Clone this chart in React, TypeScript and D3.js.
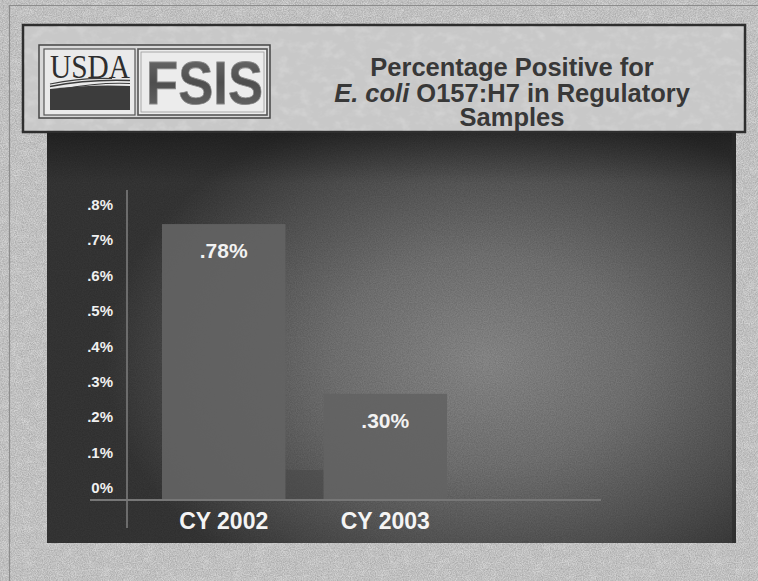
import React from "react";
import * as d3 from "d3";

// Chart data
const CATEGORIES = ["CY 2002", "CY 2003"];
const VALUES = [0.78, 0.3];
const VALUE_LABELS = [".78%", ".30%"];
const Y_TICKS = [0, 0.1, 0.2, 0.3, 0.4, 0.5, 0.6, 0.7, 0.8];
const Y_TICK_LABELS = ["0%", ".1%", ".2%", ".3%", ".4%", ".5%", ".6%", ".7%", ".8%"];
const TITLE_LINE_1 = "Percentage Positive for";
const TITLE_LINE_2_ITALIC = "E. coli";
const TITLE_LINE_2_REST = " O157:H7 in Regulatory";
const TITLE_LINE_3 = "Samples";

const W = 758;
const H = 581;
const SANS = "'Liberation Sans', Arial, Helvetica, sans-serif";

export default function App() {
  const y = d3.scaleLinear().domain([0, 0.8]).range([500, 217]);
  const x = d3
    .scaleBand<string>()
    .domain(CATEGORIES)
    .range([162, 447])
    .paddingInner(0.236)
    .paddingOuter(0);

  const bw = x.bandwidth();
  const baseY = y(0);

  return (
    <svg
      width={W}
      height={H}
      viewBox={`0 0 ${W} ${H}`}
      style={{ position: "fixed", left: 0, top: 0, display: "block" }}
    >
      <defs>
        <filter id="grain" x="0" y="0" width="100%" height="100%">
          <feTurbulence type="fractalNoise" baseFrequency="0.85" numOctaves="2" seed="3" />
          <feColorMatrix
            type="matrix"
            values="0 0 0 0 0  0 0 0 0 0  0 0 0 0 0  0 0 0 -1.4 1.05"
          />
        </filter>
        <filter id="blotch" x="0" y="0" width="100%" height="100%">
          <feTurbulence type="fractalNoise" baseFrequency="0.09 0.12" numOctaves="3" seed="8" />
          <feColorMatrix
            type="matrix"
            values="0 0 0 0 1  0 0 0 0 1  0 0 0 0 1  0 0 0 -2.2 1.2"
          />
        </filter>
        <radialGradient
          id="panelGrad"
          gradientUnits="userSpaceOnUse"
          cx="485"
          cy="360"
          r="380"
          gradientTransform="translate(485,360) scale(1,0.7) translate(-485,-360)"
        >
          <stop offset="0" stopColor="#8a8a8a" />
          <stop offset="0.4" stopColor="#737373" />
          <stop offset="0.78" stopColor="#4e4e4e" />
          <stop offset="1" stopColor="#363636" />
        </radialGradient>
        <linearGradient id="topShade" x1="0" y1="0" x2="0" y2="1">
          <stop offset="0" stopColor="#000" stopOpacity="0.35" />
          <stop offset="1" stopColor="#000" stopOpacity="0" />
        </linearGradient>
        <linearGradient id="fsisGrad" x1="0" y1="0" x2="0" y2="1">
          <stop offset="0" stopColor="#707070" />
          <stop offset="0.5" stopColor="#4e4e4e" />
          <stop offset="1" stopColor="#6a6a6a" />
        </linearGradient>
      </defs>

      {/* paper background */}
      <rect x={0} y={0} width={W} height={H} fill="#cfcfcf" />
      <rect x={0} y={0} width={W} height={H} filter="url(#blotch)" opacity={0.22} />
      <rect x={0} y={0} width={W} height={H} filter="url(#grain)" opacity={0.22} />
      <path d={`M9.5,${H} V5.5 H${W}`} fill="none" stroke="#8c8c8c" strokeWidth={1.2} />

      {/* header box */}
      <rect x={23} y={25} width={722} height={107} fill="#c8c8c8" stroke="#2e2e2e" strokeWidth={2.5} />
      <rect x={24.5} y={26.5} width={719} height={104} filter="url(#blotch)" opacity={0.2} />

      {/* logo */}
      <g>
        <rect x={39} y={45} width={231} height={73} fill="#d8d8d8" stroke="#444" strokeWidth={1.5} />
        <rect x={44} y={49} width={91} height={66} fill="#eaeaea" stroke="#555" strokeWidth={1.2} />
        <rect x={138} y={49} width={129} height={66} fill="#ececec" stroke="#555" strokeWidth={1.6} />
        <rect x={141} y={52} width={123} height={60} fill="none" stroke="#999" strokeWidth={0.8} />
        <text
          x={50}
          y={78}
          fontFamily="'Liberation Serif', 'Times New Roman', serif"
          fontSize={34}
          fill="#2e2e2e"
          textLength={80}
          lengthAdjust="spacingAndGlyphs"
        >
          USDA
        </text>
        <path d="M50,89 Q92,84 130,86 L130,110 L50,110 Z" fill="#3c3c3c" />
        <path d="M50,86.5 Q88,79 130,80.5" fill="none" stroke="#3c3c3c" strokeWidth={1.6} />
        <path d="M50,84 Q80,77.5 112,78.5" fill="none" stroke="#3c3c3c" strokeWidth={1.2} />
        <path d="M62,89 Q100,82 130,83.5" fill="none" stroke="#3c3c3c" strokeWidth={1.2} />
        <text
          x={146}
          y={104}
          fontFamily={SANS}
          fontWeight="bold"
          fontSize={62}
          fill="url(#fsisGrad)"
          stroke="#8a8a8a"
          strokeWidth={0.8}
          textLength={117}
          lengthAdjust="spacingAndGlyphs"
        >
          FSIS
        </text>
      </g>

      {/* title */}
      <g fontFamily={SANS} fontWeight="bold" fontSize={25.5} fill="#383838" textAnchor="middle">
        <text x={512} y={76}>
          {TITLE_LINE_1}
        </text>
        <text x={512} y={101.5}>
          <tspan fontStyle="italic">{TITLE_LINE_2_ITALIC}</tspan>
          <tspan>{TITLE_LINE_2_REST}</tspan>
        </text>
        <text x={512} y={126}>
          {TITLE_LINE_3}
        </text>
      </g>

      {/* chart panel */}
      <rect x={47} y={133} width={689} height={410} fill="url(#panelGrad)" />
      <rect x={47} y={133} width={689} height={50} fill="url(#topShade)" />
      <rect x={47} y={133} width={689} height={410} filter="url(#grain)" opacity={0.16} />
      <rect x={732} y={133} width={4} height={410} fill="#2a2a2a" opacity={0.6} />

      {/* axes */}
      <line x1={127} x2={127} y1={190} y2={528} stroke="#6c6c6c" strokeWidth={2} />
      <line x1={90} x2={601} y1={baseY} y2={baseY} stroke="#777" strokeWidth={2} />

      {/* floor shadow between bars */}
      <rect
        x={(x(CATEGORIES[0]) ?? 0) + bw}
        y={baseY - 30}
        width={(x(CATEGORIES[1]) ?? 0) - (x(CATEGORIES[0]) ?? 0) - bw}
        height={29}
        fill="#4a4a4a"
        opacity={0.6}
      />

      {/* bars */}
      {CATEGORIES.map((c, i) => (
        <rect
          key={c}
          x={x(c)}
          y={y(VALUES[i])}
          width={bw}
          height={baseY - y(VALUES[i]) - 1}
          fill="#636363"
          opacity={0.92}
        />
      ))}

      {/* value labels */}
      {CATEGORIES.map((c, i) => (
        <text
          key={c}
          x={(x(c) ?? 0) + bw / 2}
          y={y(VALUES[i]) + 34}
          textAnchor="middle"
          fontFamily={SANS}
          fontWeight="bold"
          fontSize={21}
          fill="#f2f2f2"
        >
          {VALUE_LABELS[i]}
        </text>
      ))}

      {/* y tick labels */}
      {Y_TICKS.map((t, i) => (
        <text
          key={t}
          x={113}
          y={y(t) - 7}
          textAnchor="end"
          fontFamily={SANS}
          fontWeight="bold"
          fontSize={15}
          fill="#f0f0f0"
        >
          {Y_TICK_LABELS[i]}
        </text>
      ))}

      {/* category labels */}
      {CATEGORIES.map((c) => (
        <text
          key={c}
          x={(x(c) ?? 0) + bw / 2}
          y={529}
          textAnchor="middle"
          fontFamily={SANS}
          fontWeight="bold"
          fontSize={23}
          fill="#f4f4f4"
        >
          {c}
        </text>
      ))}
    </svg>
  );
}
